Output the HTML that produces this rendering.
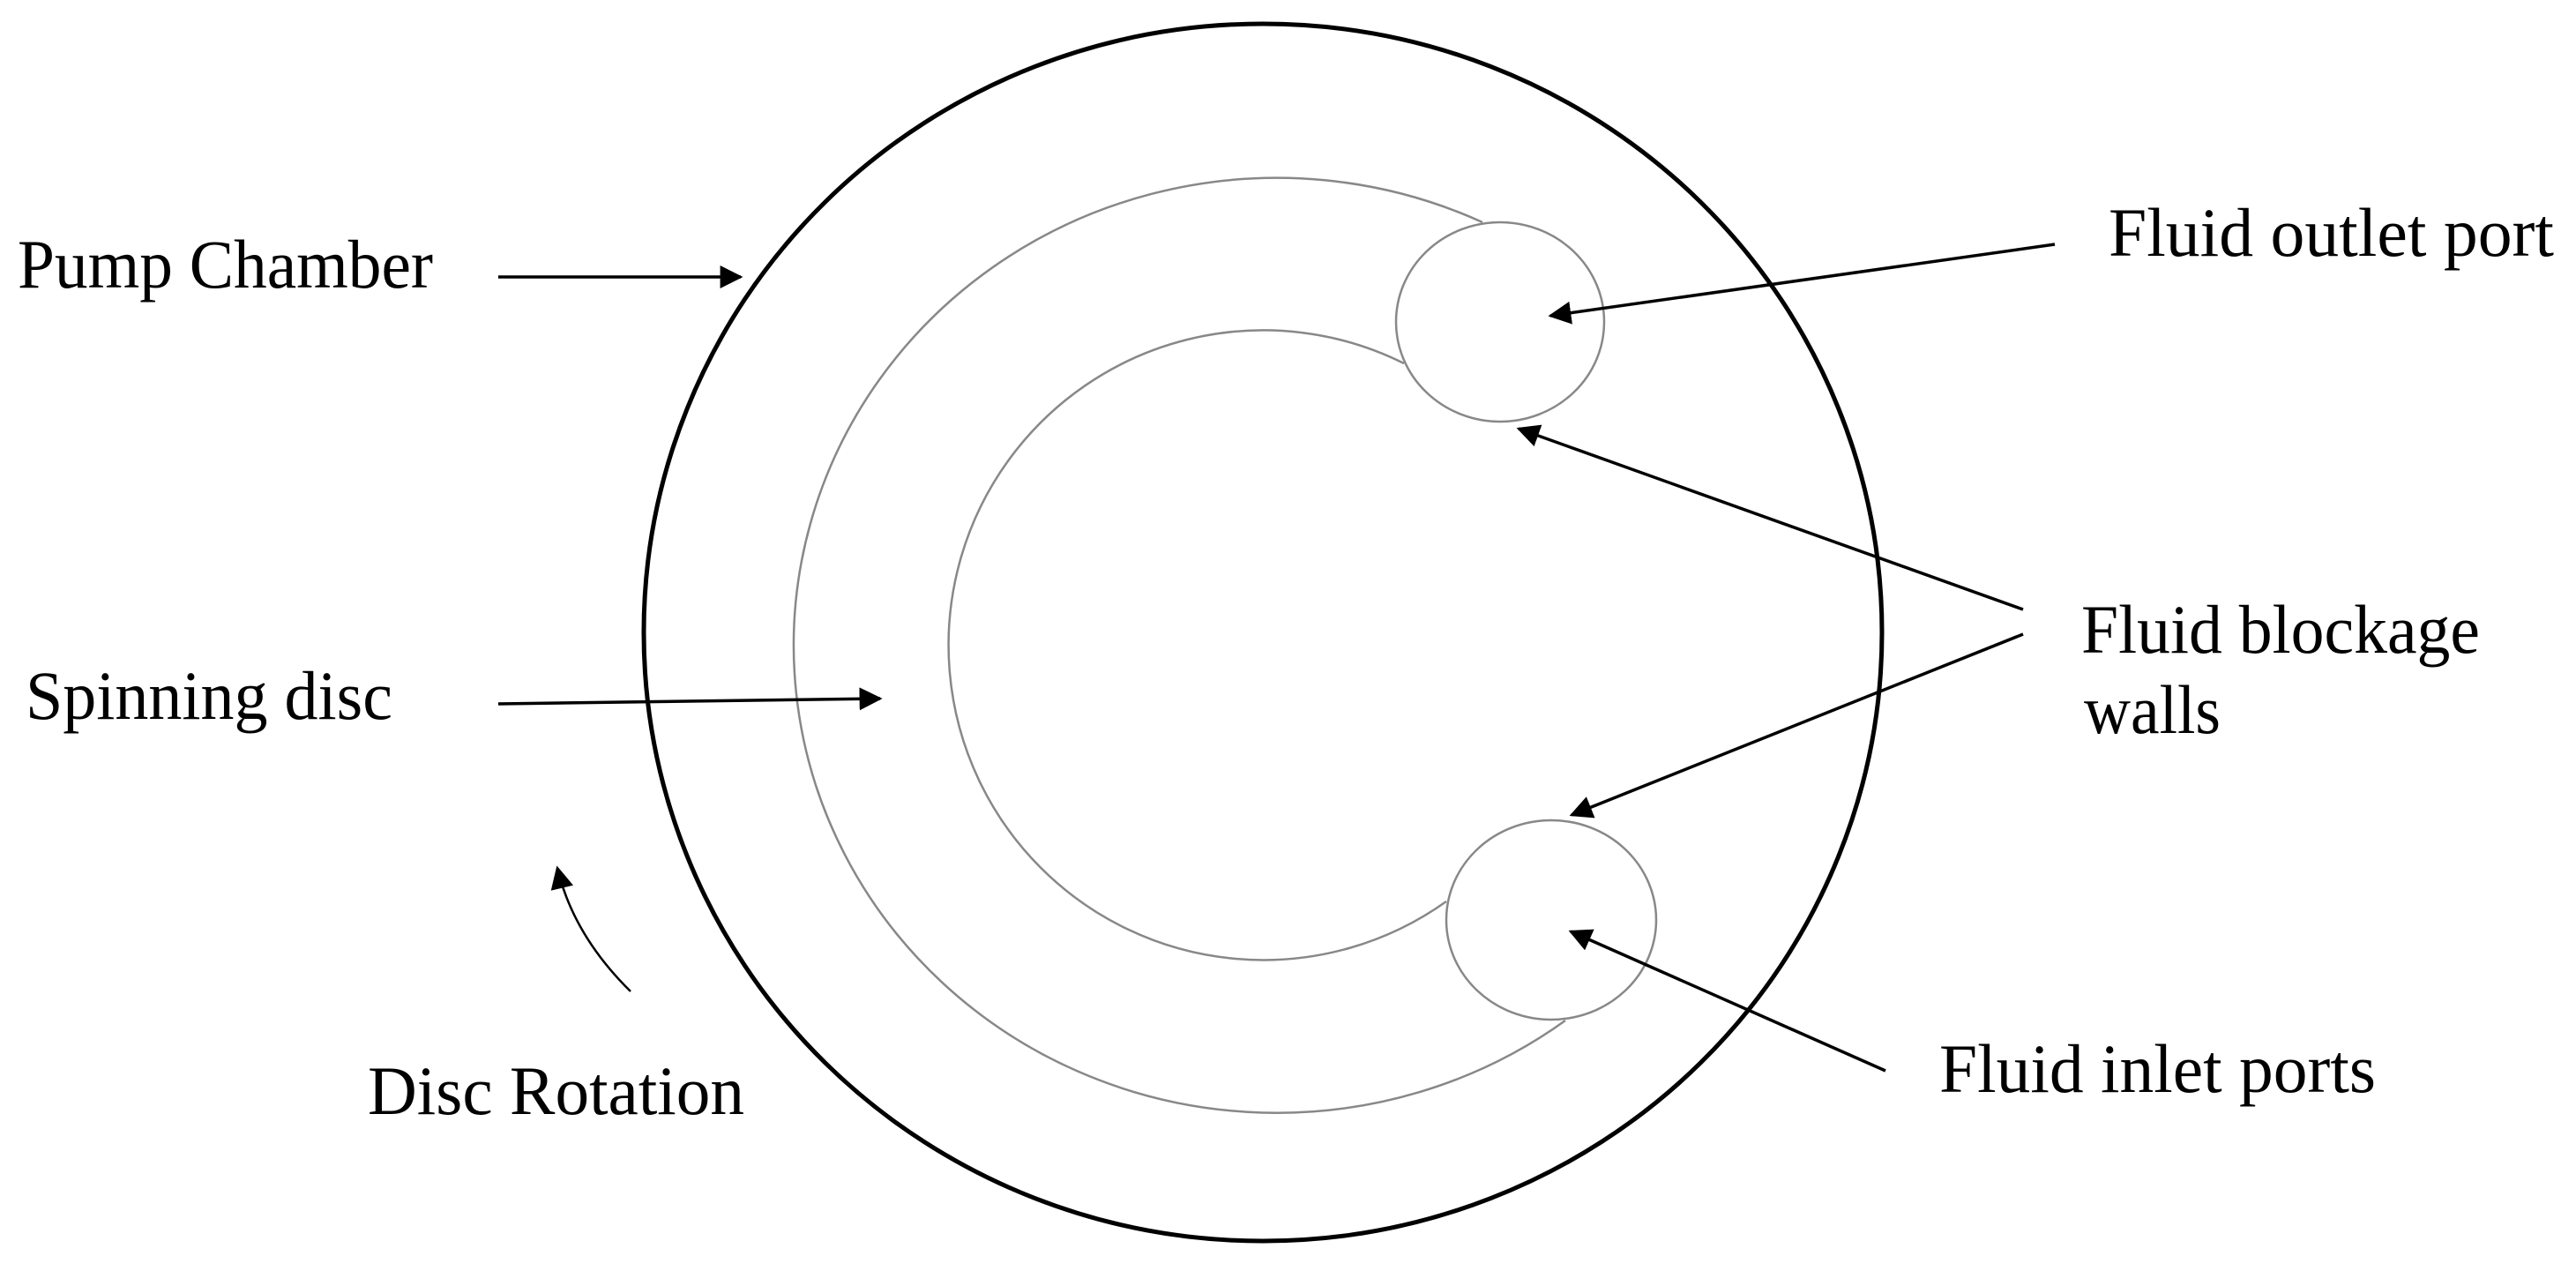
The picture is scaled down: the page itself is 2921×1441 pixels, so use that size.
<!DOCTYPE html>
<html><head><meta charset="utf-8"><style>html,body{margin:0;padding:0;background:#fff}svg{display:block}</style></head>
<body>
<svg width="2921" height="1441" viewBox="0 0 2921 1441" xmlns="http://www.w3.org/2000/svg">
<defs>
<marker id="ahb" viewBox="0 0 10 10" refX="9" refY="5" markerWidth="26" markerHeight="26" markerUnits="userSpaceOnUse" orient="auto">
<path d="M0,0 L10,5 L0,10 z" fill="#000"/>
</marker>
</defs>
<ellipse cx="1432" cy="717" rx="702" ry="690" fill="none" stroke="#000" stroke-width="5"/>
<path d="M1681,252 A548,530 0 1,0 1775,1157" fill="none" stroke="#888" stroke-width="2.5"/>
<path d="M1592,412 A357,357 0 1,0 1640,1022" fill="none" stroke="#888" stroke-width="2.5"/>
<ellipse cx="1701" cy="365" rx="118" ry="113" fill="none" stroke="#888" stroke-width="2.5"/>
<ellipse cx="1759" cy="1043" rx="119" ry="113" fill="none" stroke="#888" stroke-width="2.5"/>
<g stroke="#000" stroke-width="3.5" fill="none">
<line x1="565" y1="314" x2="840" y2="314" marker-end="url(#ahb)"/>
<line x1="565" y1="798" x2="998" y2="792" marker-end="url(#ahb)"/>
<line x1="2330" y1="277" x2="1758" y2="358" marker-end="url(#ahb)"/>
<line x1="2294" y1="691" x2="1722" y2="486" marker-end="url(#ahb)"/>
<line x1="2294" y1="719" x2="1782" y2="924" marker-end="url(#ahb)"/>
<line x1="2138" y1="1214" x2="1781" y2="1056" marker-end="url(#ahb)"/>
<path d="M715,1124 Q650,1060 632,984" stroke-width="2.5" marker-end="url(#ahb)"/>
</g>
<g font-family="'Liberation Serif', serif" font-size="78" fill="#000">
<text x="20" y="326" textLength="471" lengthAdjust="spacingAndGlyphs">Pump Chamber</text>
<text x="29" y="815" textLength="416" lengthAdjust="spacingAndGlyphs">Spinning  disc</text>
<text x="417" y="1263" textLength="427" lengthAdjust="spacingAndGlyphs">Disc Rotation</text>
<text x="2391" y="290" textLength="505" lengthAdjust="spacingAndGlyphs">Fluid outlet port</text>
<text x="2360" y="740" textLength="452" lengthAdjust="spacingAndGlyphs">Fluid blockage</text>
<text x="2363" y="831" textLength="155" lengthAdjust="spacingAndGlyphs">walls</text>
<text x="2199" y="1238" textLength="495" lengthAdjust="spacingAndGlyphs">Fluid inlet ports</text>
</g>
</svg>
</body></html>
